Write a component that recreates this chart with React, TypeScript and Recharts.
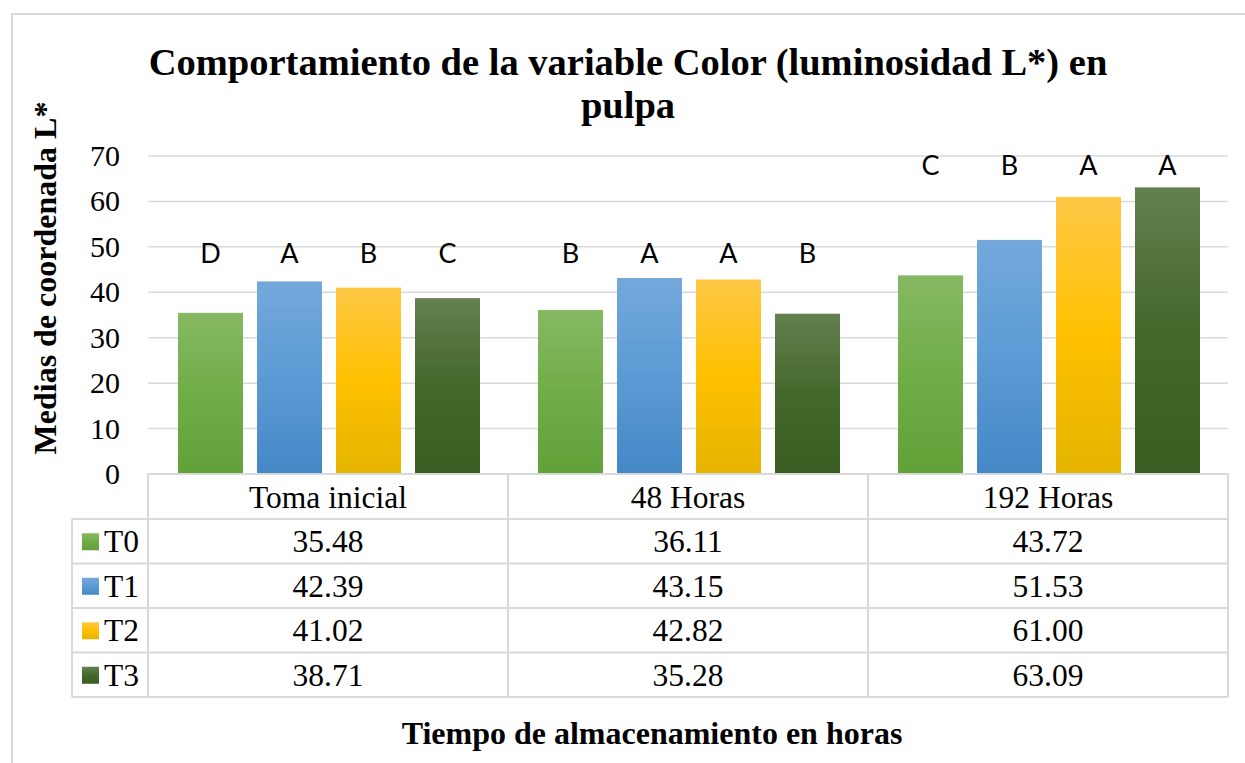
import { BarChart, Bar, XAxis, YAxis, CartesianGrid } from "recharts"

// categories and series (medias de L*)
const categories = ["Toma inicial", "48 Horas", "192 Horas"]
const seriesNames = ["T0", "T1", "T2", "T3"]
const t0Values = [35.48, 36.11, 43.72]
const t1Values = [42.39, 43.15, 51.53]
const t2Values = [41.02, 42.82, 61.0]
const t3Values = [38.71, 35.28, 63.09]

// letras de significancia sobre cada barra
const t0Letters = ["D", "B", "C"]
const t1Letters = ["A", "A", "B"]
const t2Letters = ["B", "A", "A"]
const t3Letters = ["C", "B", "A"]
// altura (en unidades de L*) donde se escribe la fila de letras de cada grupo
const letterLevel = [46.5, 46.5, 65.8]

const yTicks = [0, 10, 20, 30, 40, 50, 60, 70]

const seriesValues = [t0Values, t1Values, t2Values, t3Values]
const seriesLetters = [t0Letters, t1Letters, t2Letters, t3Letters]

// gradientes estilo Excel: top, middle, bottom
const gradients = [
  ["#85b964", "#70ad47", "#62a038"],
  ["#74a8dc", "#5b9bd5", "#4588c6"],
  ["#ffc846", "#ffc000", "#e5b400"],
  ["#63804f", "#43682b", "#395e22"],
]

const SERIF = '"Liberation Serif", "Times New Roman", serif'
const SANS = 'Lato, "Open Sans", sans-serif'
const BORDER = "#d9d9d9"

const chartData = categories.map((name, i) => {
  const row: Record<string, string | number> = { name, level: letterLevel[i] }
  seriesNames.forEach((s, k) => {
    row[s] = seriesValues[k][i]
  })
  return row
})

const HEADER_H = 45
const ROW_H = 44.5
const LEGEND_W = 76

function makeBarShape(k: number) {
  return (props: any) => {
    const { x, y, width, height, index, payload } = props
    const value = seriesValues[k][index]
    const bottom = y + height
    const pxPerUnit = value ? height / value : 0
    const level = payload?.level ?? letterLevel[index]
    const ly = bottom - level * pxPerUnit
    return (
      <g>
        <rect x={x} y={y} width={width} height={height} fill={`url(#grad${k})`} />
        <text x={x + width / 2} y={ly} textAnchor="middle" fontFamily={SANS} fontSize={27} fill="#000">
          {seriesLetters[k][index]}
        </text>
      </g>
    )
  }
}

function renderYTick(props: any) {
  const { x, y, payload } = props
  return (
    <text
      x={x}
      y={y + 10}
      textAnchor="end"
      fontSize={30}
      fill="#000"
      style={{ fontFamily: SERIF }}
    >
      {payload.value}
    </text>
  )
}

function TableTick(props: any) {
  const { x, y, payload, index } = props
  const half = payload?.offset || 180
  const colL = x - half
  const colR = x + half
  const top = y
  const bottom = top + HEADER_H + ROW_H * seriesNames.length
  const i = index ?? categories.indexOf(payload.value)
  const lines = []
  lines.push(<line key="ht" x1={colL} x2={colR} y1={top} y2={top} stroke={BORDER} strokeWidth={2} />)
  for (let r = 0; r <= seriesNames.length; r++) {
    const ry = top + HEADER_H + r * ROW_H
    lines.push(<line key={`h${r}`} x1={colL} x2={colR} y1={ry} y2={ry} stroke={BORDER} strokeWidth={2} />)
    if (i === 0) {
      lines.push(
        <line key={`lh${r}`} x1={colL - LEGEND_W} x2={colL} y1={ry} y2={ry} stroke={BORDER} strokeWidth={2} />
      )
    }
  }
  lines.push(<line key="vr" x1={colR} x2={colR} y1={top} y2={bottom} stroke={BORDER} strokeWidth={2} />)
  if (i === 0) {
    lines.push(<line key="vl" x1={colL} x2={colL} y1={top} y2={bottom} stroke={BORDER} strokeWidth={2} />)
    lines.push(
      <line key="vll" x1={colL - LEGEND_W} x2={colL - LEGEND_W} y1={top + HEADER_H} y2={bottom} stroke={BORDER} strokeWidth={2} />
    )
  }
  return (
    <g>
      {lines}
      <text x={x} y={top + HEADER_H / 2 + 11} textAnchor="middle" fontFamily={SERIF} fontSize={31.5} fill="#000">
        {payload.value}
      </text>
      {seriesNames.map((s, k) => {
        const cy = top + HEADER_H + k * ROW_H + ROW_H / 2
        return (
          <g key={s}>
            <text x={x} y={cy + 11} textAnchor="middle" fontFamily={SERIF} fontSize={31.5} fill="#000">
              {seriesValues[k][i].toFixed(2)}
            </text>
            {i === 0 && (
              <g>
                <rect x={colL - LEGEND_W + 10} y={cy - 8} width={17} height={17} fill={`url(#grad${k})`} />
                <text x={colL - LEGEND_W + 32} y={cy + 11} fontFamily={SERIF} fontSize={31.5} fill="#000">
                  {s}
                </text>
              </g>
            )}
          </g>
        )
      })}
    </g>
  )
}

export default function App() {
  return (
    <div
      style={{
        position: "absolute",
        left: 0,
        top: 0,
        width: 1245,
        height: 763,
        overflow: "hidden",
        background: "#fff",
      }}
    >
      <svg width={0} height={0} style={{ position: "absolute" }}>
        <defs>
          {gradients.map((g, k) => (
            <linearGradient key={k} id={`grad${k}`} x1="0" y1="0" x2="0" y2="1">
              <stop offset="0%" stopColor={g[0]} />
              <stop offset="50%" stopColor={g[1]} />
              <stop offset="100%" stopColor={g[2]} />
            </linearGradient>
          ))}
        </defs>
      </svg>

      <div
        style={{
          position: "absolute",
          left: 11,
          top: 13,
          width: 1300,
          height: 800,
          border: `2px solid ${BORDER}`,
        }}
      />

      <div
        style={{
          position: "absolute",
          left: 0,
          top: 41,
          width: 1256,
          textAlign: "center",
          fontFamily: SERIF,
          fontWeight: "bold",
          fontSize: 38.5,
          lineHeight: "43px",
          color: "#000",
        }}
      >
        Comportamiento de la variable Color (luminosidad L*) en
        <br />
        pulpa
      </div>

      <div
        style={{
          position: "absolute",
          left: 45 - 250,
          top: 278 - 20,
          width: 500,
          height: 40,
          lineHeight: "40px",
          textAlign: "center",
          fontFamily: SERIF,
          fontWeight: "bold",
          fontSize: 32,
          color: "#000",
          transform: "rotate(-90deg)",
        }}
      >
        Medias de coordenada L*
      </div>

      <div
        style={{
          position: "absolute",
          left: 652 - 400,
          top: 715,
          width: 800,
          lineHeight: "36px",
          textAlign: "center",
          fontFamily: SERIF,
          fontWeight: "bold",
          fontSize: 32,
          color: "#000",
        }}
      >
        Tiempo de almacenamiento en horas
      </div>

      <div style={{ position: "absolute", left: 0, top: 0 }}>
        <BarChart
          width={1245}
          height={763}
          data={chartData}
          margin={{ top: 156, right: 17, bottom: 66, left: 88 }}
          barCategoryGap={30}
          barGap={14}
        >
          <CartesianGrid vertical={false} stroke={BORDER} strokeWidth={1.5} />
          <XAxis
            dataKey="name"
            height={223}
            axisLine={false}
            tickLine={false}
            tickSize={0}
            tickMargin={0}
            interval={0}
            tick={<TableTick />}
          />
          <YAxis
            width={60}
            domain={[0, 70]}
            ticks={yTicks}
            axisLine={false}
            tickLine={false}
            tickSize={0}
            tickMargin={28}
            tick={renderYTick}
          />
          {seriesNames.map((s, k) => (
            <Bar key={s} dataKey={s} isAnimationActive={false} shape={makeBarShape(k)} />
          ))}
        </BarChart>
      </div>
    </div>
  )
}
